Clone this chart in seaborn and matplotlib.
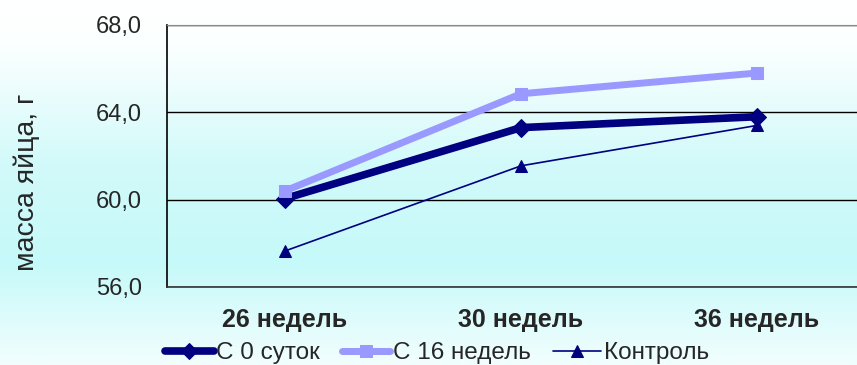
import numpy as np
import pandas as pd
import matplotlib
matplotlib.use('Agg')
import matplotlib.pyplot as plt
from matplotlib.colors import LinearSegmentedColormap
from matplotlib.ticker import FuncFormatter, FixedLocator
import seaborn as sns

sns.set_style('white')
plt.rcParams['font.family'] = ['Liberation Sans', 'DejaVu Sans']

# Data
weeks = ['26 недель', '30 недель', '36 недель']
s0_days = [60.05, 63.3, 63.8]       # С 0 суток
s16_weeks = [60.4, 64.85, 65.8]     # С 16 недель
control = [57.65, 61.55, 63.4]      # Контроль
labels = ['С 0 суток', 'С 16 недель', 'Контроль']
yticks = [56, 60, 64, 68]

fig = plt.figure(figsize=(8.57, 3.65), dpi=100)

# gradient background for the whole chart
bg = fig.add_axes([0, 0, 1, 1], zorder=-10)
cmap = LinearSegmentedColormap.from_list('bg', [(0, '#ffffff'), (0.12, '#fcffff'), (0.45, '#d2fafa'),
                                                (0.72, '#c6f9f9'), (1, '#f2fefe')])
bg.imshow(np.linspace(0, 1, 256).reshape(-1, 1), aspect='auto', cmap=cmap, extent=[0, 1, 0, 1])
bg.axis('off')

ax = fig.add_axes([167 / 857, 1 - 287 / 365, 708 / 857, 262 / 365])
ax.patch.set_alpha(0)

sns.lineplot(x=weeks, y=s0_days, ax=ax, color='#000080', lw=5.5, marker='D', ms=9,
             mec='#000080', label=labels[0], sort=False)
sns.lineplot(x=weeks, y=s16_weeks, ax=ax, color='#9999ff', lw=5, marker='s', ms=9,
             mec='#9999ff', label=labels[1], sort=False)
sns.lineplot(x=weeks, y=control, ax=ax, color='#000080', lw=1.2, marker='^', ms=9,
             mec='#000080', label=labels[2], sort=False)

ax.set_xlim(-0.5, 2.5)
ax.set_ylim(56, 68)
ax.set_yticks(yticks)
ax.yaxis.set_major_formatter(FuncFormatter(lambda v, p: f'{v:.1f}'.replace('.', ',')))
ax.yaxis.grid(True, color='black', lw=1)
ax.set_axisbelow(True)

ax.xaxis.set_minor_locator(FixedLocator([0.5, 1.5, 2.5]))
ax.tick_params(axis='x', which='major', length=0, pad=15)
ax.tick_params(axis='x', which='minor', length=8, width=1, direction='out', color='#333333')
ax.tick_params(axis='y', length=7, width=1, direction='out', color='black', labelsize=17, pad=11)
for t in ax.get_xticklabels():
    t.set_fontweight('bold')
    t.set_fontsize(18)

ax.spines['right'].set_visible(False)
ax.spines['top'].set_color('#888888')
ax.spines['left'].set_color('black')
ax.spines['bottom'].set_color('#333333')
ax.spines['left'].set_linewidth(1.2)
ax.spines['bottom'].set_linewidth(1.2)

ax.set_xlabel('')
ax.set_ylabel('масса яйца, г', fontsize=20.5)
ax.yaxis.set_label_coords(-0.18, 0.40)

leg = ax.legend(loc='center', bbox_to_anchor=(437 / 857, 1 - 353 / 365), bbox_transform=fig.transFigure,
                ncol=3, frameon=False, handlelength=2.0, handletextpad=0.1,
                columnspacing=0.9, borderaxespad=0, prop={'size': 17.5})
for h in leg.legend_handles:
    h.set_markersize(8)

fig.savefig('out.png', dpi=100)
